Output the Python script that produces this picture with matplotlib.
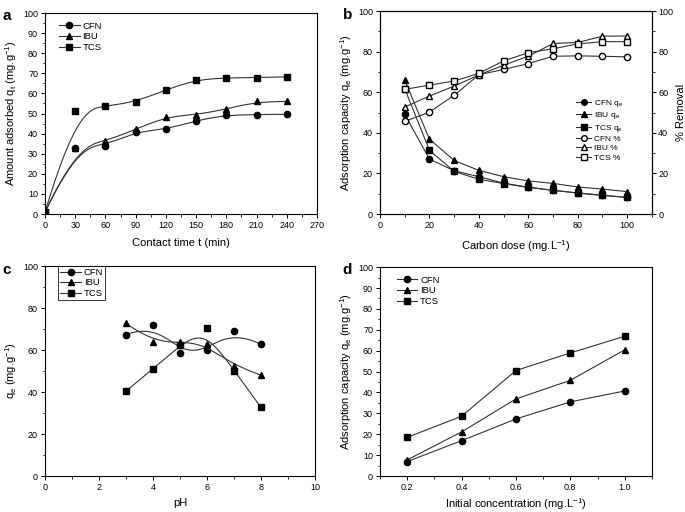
import numpy as np
import matplotlib
matplotlib.use("Agg")
from matplotlib import pyplot as plt
from matplotlib.ticker import MultipleLocator

plt.rcParams['font.family'] = ['Liberation Sans', 'DejaVu Sans']
plt.rcParams['mathtext.fontset'] = 'custom'
plt.rcParams['mathtext.rm'] = 'Liberation Sans'
plt.rcParams['mathtext.it'] = 'Liberation Sans'

# a: contact time
time_min = [0, 30, 60, 90, 120, 150, 180, 210, 240]
a_cfn = [0.8, 32.7, 33.9, 41.0, 42.1, 46.4, 49.4, 49.5, 49.6]
a_ibu = [0.8, 32.9, 36.2, 42.1, 48.4, 49.4, 52.1, 56.0, 56.0]
a_tcs = [0.8, 51.4, 53.6, 55.8, 61.8, 66.8, 67.8, 67.9, 68.2]

# b: carbon dose
dose = [10, 20, 30, 40, 50, 60, 70, 80, 90, 100]
b_cfn_q = [49.1, 27.1, 21.3, 18.4, 15.2, 13.2, 11.7, 10.4, 9.2, 8.2]
b_ibu_q = [66.0, 36.9, 26.4, 21.5, 18.4, 16.3, 15.1, 13.3, 12.3, 11.0]
b_tcs_q = [61.8, 31.4, 21.0, 17.1, 15.0, 13.1, 11.7, 10.3, 9.2, 8.2]
b_cfn_r = [45.6, 50.2, 58.5, 68.6, 71.2, 74.1, 77.7, 77.9, 77.7, 77.4]
b_ibu_r = [52.7, 58.1, 63.0, 68.5, 73.3, 77.7, 84.0, 84.5, 87.6, 87.7]
b_tcs_r = [61.4, 63.5, 65.5, 69.3, 75.4, 79.5, 81.4, 83.8, 84.9, 84.9]

# c: pH
ph = [3, 4, 5, 6, 7, 8]
c_cfn = [67.4, 72.0, 58.4, 60.0, 68.9, 62.8]
c_ibu = [72.7, 63.8, 64.0, 62.7, 52.5, 48.1]
c_tcs = [40.4, 51.0, 62.4, 70.3, 50.2, 32.7]

# d: initial concentration
conc = [0.2, 0.4, 0.6, 0.8, 1.0]
d_cfn = [6.9, 16.9, 27.3, 35.5, 40.7]
d_ibu = [7.7, 21.1, 36.9, 45.8, 60.4]
d_tcs = [18.5, 28.6, 50.5, 58.9, 66.9]

names = ['CFN', 'IBU', 'TCS']
marks = ['o', '^', 's']
lc = '#333333'
tick_fs = 6.5
lab_fs = 8
leg_fs = 6.8


def bspline(xs, ys, n=300):
    # clamped cubic B-spline with the data points as control points
    P = np.column_stack([xs, ys]).astype(float)
    k = 3
    m = len(P)
    inner = np.linspace(0, 1, m - k + 1)
    knots = np.concatenate([[0] * k, inner, [1] * k])
    u = np.linspace(0, 1, n)
    u[-1] = 1 - 1e-9
    N = np.zeros((n, len(knots) - 1))
    for i in range(len(knots) - 1):
        N[:, i] = (u >= knots[i]) & (u < knots[i + 1])
    for d in range(1, k + 1):
        Nn = np.zeros((n, len(knots) - 1 - d))
        for i in range(len(knots) - 1 - d):
            t1 = 0.0
            den = knots[i + d] - knots[i]
            if den > 0:
                t1 = (u - knots[i]) / den * N[:, i]
            t2 = 0.0
            den = knots[i + d + 1] - knots[i + 1]
            if den > 0:
                t2 = (knots[i + d + 1] - u) / den * N[:, i + 1]
            Nn[:, i] = t1 + t2
        N = Nn
    C = N @ P
    return C[:, 0], C[:, 1]


def style(ax, right_ticks=False):
    ax.tick_params(direction='out', length=3, width=0.7, labelsize=tick_fs, pad=2,
                   top=False, right=right_ticks)
    ax.tick_params(which='minor', direction='out', length=1.8, width=0.6,
                   top=False, right=right_ticks)
    for s in ax.spines.values():
        s.set_linewidth(0.8)


fig = plt.figure(figsize=(6.85, 5.12), dpi=100)

# ---- a
ax = fig.add_axes([0.0657, 0.582, 0.397, 0.3926])
for ys, mk, nm in zip([a_cfn, a_ibu, a_tcs], marks, names):
    sx, sy = bspline(time_min, ys)
    ax.plot(sx, sy, color=lc, lw=0.8)
    ax.plot(time_min, ys, linestyle='none', marker=mk, ms=4.5, color='black')
    ax.plot([], [], color=lc, lw=0.8, marker=mk, ms=4.5, mfc='black',
            mec='black', label=nm)
ax.set_xlim(0, 270)
ax.set_ylim(0, 100)
ax.xaxis.set_major_locator(MultipleLocator(30))
ax.xaxis.set_minor_locator(MultipleLocator(15))
ax.yaxis.set_major_locator(MultipleLocator(10))
ax.yaxis.set_minor_locator(MultipleLocator(5))
ax.set_xlabel('Contact time t (min)', fontsize=lab_fs, labelpad=6)
ax.set_ylabel(r'Amount adsorbed q$_\mathregular{t}$ (mg.g$^{\mathregular{-1}}$)', fontsize=lab_fs, labelpad=3)
ax.legend(loc='upper left', frameon=False, fontsize=leg_fs, handlelength=2.2,
          labelspacing=0.2, borderaxespad=0.5, bbox_to_anchor=(0.02, 1.0),
          handletextpad=0.3)
style(ax)

# ---- b
ax = fig.add_axes([0.5547, 0.582, 0.397, 0.3965])
ax2 = ax.twinx()
lab_q = [r'CFN q$_\mathregular{e}$', r'IBU q$_\mathregular{e}$', r'TCS q$_\mathregular{e}$']
handles = []
for ys, mk, nm in zip([b_cfn_q, b_ibu_q, b_tcs_q], marks, lab_q):
    h, = ax.plot(dose, ys, color=lc, lw=0.8, marker=mk, ms=4.5, mfc='black',
                 mec='black', label=nm)
    handles.append(h)
for ys, mk, nm in zip([b_cfn_r, b_ibu_r, b_tcs_r], marks, ['CFN %', 'IBU %', 'TCS %']):
    h, = ax2.plot(dose, ys, color=lc, lw=0.8, marker=mk, ms=4.5, mfc='white',
                  mec='black', label=nm)
    handles.append(h)
ax.set_xlim(0, 110)
ax.set_ylim(0, 100)
ax2.set_ylim(0, 100)
ax.xaxis.set_major_locator(MultipleLocator(20))
ax.xaxis.set_minor_locator(MultipleLocator(10))
for a_ in (ax, ax2):
    a_.yaxis.set_major_locator(MultipleLocator(20))
    a_.yaxis.set_minor_locator(MultipleLocator(10))
ax.set_xlabel(r'Carbon dose (mg.L$^{\mathregular{-1}}$)', fontsize=lab_fs, labelpad=6)
ax.set_ylabel(r'Adsorption capacity q$_\mathregular{e}$ (mg.g$^{\mathregular{-1}}$)', fontsize=lab_fs, labelpad=3)
ax2.set_ylabel('% Removal', fontsize=lab_fs, labelpad=2)
style(ax)
style(ax2, right_ticks=True)
ax2.tick_params(left=False, pad=1.5)
ax.legend(handles=handles, loc='upper left', frameon=False, fontsize=6,
          handlelength=1.8, labelspacing=0.18, bbox_to_anchor=(0.71, 0.59),
          borderaxespad=0, handletextpad=0.3, markerscale=0.9)

# ---- c
ax = fig.add_axes([0.0657, 0.0703, 0.394, 0.41])
for ys, mk, nm in zip([c_cfn, c_ibu, c_tcs], marks, names):
    sx, sy = bspline(ph, ys)
    ax.plot(sx, sy, color=lc, lw=0.8)
    ax.plot(ph, ys, linestyle='none', marker=mk, ms=4.5, color='black')
    ax.plot([], [], color=lc, lw=0.8, marker=mk, ms=4.5, mfc='black',
            mec='black', label=nm)
ax.set_xlim(0, 10)
ax.set_ylim(0, 100)
ax.xaxis.set_major_locator(MultipleLocator(2))
ax.xaxis.set_minor_locator(MultipleLocator(1))
ax.yaxis.set_major_locator(MultipleLocator(20))
ax.yaxis.set_minor_locator(MultipleLocator(10))
ax.set_xlabel('pH', fontsize=lab_fs, labelpad=4)
ax.set_ylabel(r'q$_\mathregular{e}$ (mg.g$^{\mathregular{-1}}$)', fontsize=lab_fs, labelpad=3)
leg = ax.legend(loc='upper left', frameon=True, fancybox=False, fontsize=leg_fs,
                handlelength=2.2, labelspacing=0.15, borderpad=0.2,
                bbox_to_anchor=(0.05, 1.0), borderaxespad=0, handletextpad=0.3)
leg.get_frame().set_edgecolor('black')
leg.get_frame().set_linewidth(0.7)
style(ax)

# ---- d
ax = fig.add_axes([0.5547, 0.0703, 0.397, 0.408])
for ys, mk, nm in zip([d_cfn, d_ibu, d_tcs], marks, names):
    ax.plot(conc, ys, color=lc, lw=0.8, marker=mk, ms=4.5, mfc='black',
            mec='black', label=nm)
ax.set_xlim(0.1, 1.1)
ax.set_ylim(0, 100)
ax.set_xticks(conc)
ax.set_xticklabels(['0.2', '0.4', '0.6', '0.8', '1.0'])
ax.xaxis.set_minor_locator(MultipleLocator(0.1))
ax.yaxis.set_major_locator(MultipleLocator(10))
ax.yaxis.set_minor_locator(MultipleLocator(5))
ax.set_xlabel(r'Initial concentration (mg.L$^{\mathregular{-1}}$)', fontsize=lab_fs, labelpad=3)
ax.set_ylabel(r'Adsorption capacity q$_\mathregular{e}$ (mg.g$^{\mathregular{-1}}$)', fontsize=lab_fs, labelpad=3)
ax.legend(loc='upper left', frameon=False, fontsize=leg_fs, handlelength=2.2,
          labelspacing=0.2, borderaxespad=0.5, bbox_to_anchor=(0.03, 1.0),
          handletextpad=0.3)
style(ax)

# panel letters
for x, y, t in [(0.004, 0.968, 'a'), (0.5, 0.97, 'b'), (0.004, 0.472, 'c'), (0.5, 0.472, 'd')]:
    fig.text(x, y, t, fontsize=11, fontweight='bold', va='center')

fig.savefig('out.png', dpi=100)
